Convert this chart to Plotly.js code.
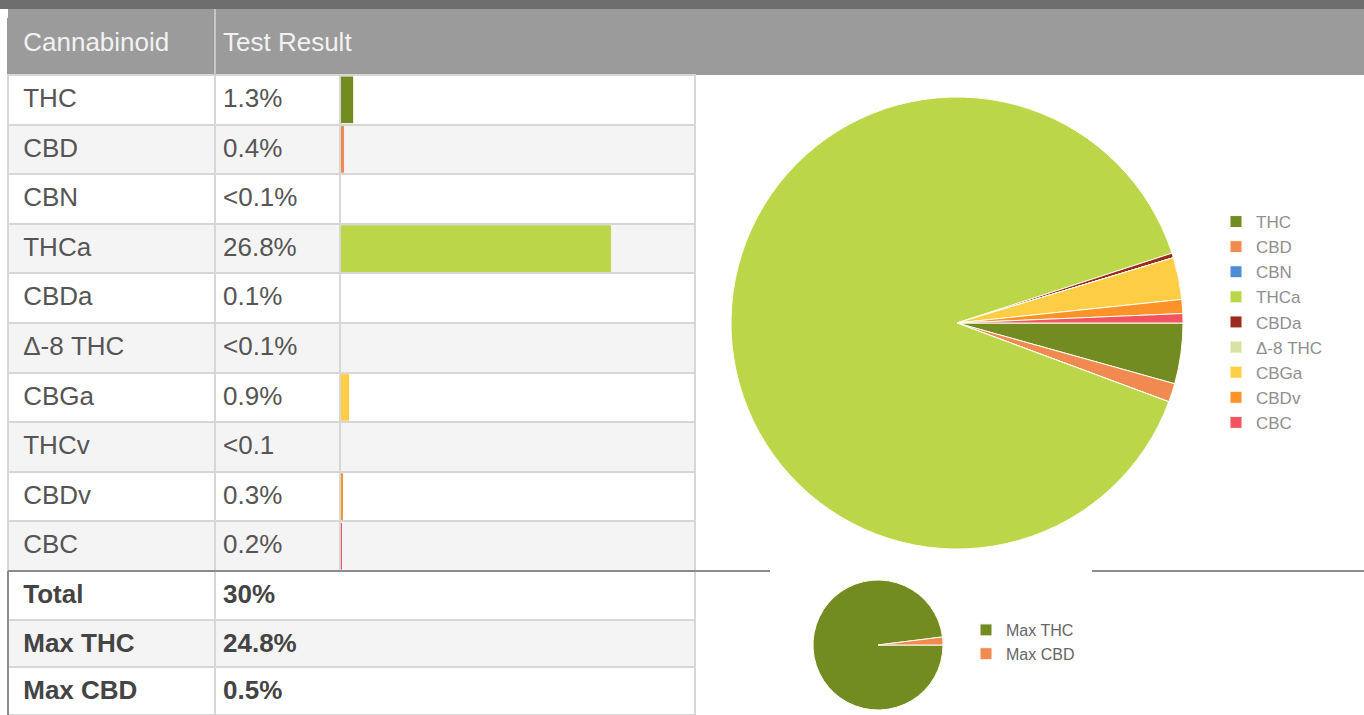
<!DOCTYPE html>
<html>
<head>
<meta charset="utf-8">
<script src="https://cdn.plot.ly/plotly-3.0.1.min.js"></script>
<style>html,body{margin:0;padding:0;background:#fff;}#chart{width:1364px;height:715px;}</style>
</head>
<body>
<div id="chart"></div>
<script>
// ---------- data ----------
const headerLabels = ['Cannabinoid', 'Test Result'];
const cannabinoids = ['THC', 'CBD', 'CBN', 'THCa', 'CBDa', 'Δ-8 THC', 'CBGa', 'THCv', 'CBDv', 'CBC'];
const resultLabels = ['1.3%', '0.4%', '<0.1%', '26.8%', '0.1%', '<0.1%', '0.9%', '<0.1', '0.3%', '0.2%'];
const resultValues = [1.3, 0.4, 0, 26.8, 0.1, 0, 0.9, 0, 0.3, 0.2];
const pieLabels = ['THC', 'CBD', 'CBN', 'THCa', 'CBDa', 'Δ-8 THC', 'CBGa', 'CBDv', 'CBC'];
const pieValues = [1.3, 0.4, 0, 26.8, 0.1, 0, 0.9, 0.3, 0.2];
const summaryLabels = ['Total', 'Max THC', 'Max CBD'];
const summaryResults = ['30%', '24.8%', '0.5%'];
const maxLabels = ['Max THC', 'Max CBD'];
const maxValues = [24.8, 0.5];

// ---------- style ----------
const W = 1364, H = 715;
const px = v => v / W;
const py = v => 1 - v / H;
const colorOf = {
  'THC': '#728c22', 'CBD': '#f08a50', 'CBN': '#4d8ad8', 'THCa': '#bcd64a',
  'CBDa': '#9b2b1f', 'Δ-8 THC': '#d5e4a2', 'CBGa': '#fdce45', 'THCv': '#cccccc',
  'CBDv': '#fb9329', 'CBC': '#f2535f', 'Max THC': '#728c22', 'Max CBD': '#f08a50'
};
const FONT = 'Liberation Sans, Arial, Helvetica, sans-serif';
const fillOf = i => i % 2 === 0 ? '#ffffff' : '#f4f4f4';
const CLEAR = 'rgba(0,0,0,0)';
const gridCol = '#d7d7d7';
// keep each cell on one line and render it through the rich-text path
const cell = s => s === '' ? '' : s.replace(/ /g, '\u00a0') + '<span></span>';
const boldCell = s => '<b>' + s.replace(/ /g, '\u00a0') + '</b>';

const bandTop = 9, tableTop = 19, rowsTop = 75, sepY = 571;
const rowH = (sepY - rowsTop) / cannabinoids.length;
const cellFont = {family: FONT, size: 26, color: '#555555'};

// header row (spans the bar column, so its own 2-column table)
const headTable = {
  type: 'table',
  domain: {x: [px(8), px(695)], y: [py(rowsTop), py(tableTop)]},
  columnwidth: [207, 480],
  header: {
    values: headerLabels.map(cell),
    align: 'left', height: rowsTop - tableTop,
    prefix: ['\u00a0', ''],
    fill: {color: '#9b9b9b'},
    line: {color: '#9b9b9b', width: 2},
    font: {family: FONT, size: 26, color: '#f2f2f2'}
  },
  cells: {values: []}
};

// cannabinoid rows: first row carried by the table header, the rest as cells
const rest = a => a.slice(1);
const mainTable = {
  type: 'table',
  domain: {x: [px(8), px(695)], y: [py(sepY), py(rowsTop)]},
  columnwidth: [207, 125, 355],
  header: {
    values: [cell(cannabinoids[0]), cell(resultLabels[0]), ''],
    align: 'left', height: rowH,
    prefix: ['\u00a0', '', ''],
    fill: {color: [fillOf(0), fillOf(0), CLEAR]},
    line: {color: gridCol, width: 2},
    font: cellFont
  },
  cells: {
    values: [rest(cannabinoids).map(cell), rest(resultLabels).map(cell), rest(cannabinoids).map(() => '')],
    align: 'left', height: rowH,
    prefix: ['\u00a0', '', ''],
    fill: {color: [rest(cannabinoids).map((_, i) => fillOf(i + 1)), rest(cannabinoids).map((_, i) => fillOf(i + 1)), rest(cannabinoids).map(() => CLEAR)]},
    line: {color: gridCol, width: 2},
    font: cellFont
  }
};

const summaryTable = {
  type: 'table',
  domain: {x: [px(8), px(695)], y: [0, py(sepY)]},
  columnwidth: [207, 480],
  header: {
    values: [boldCell(summaryLabels[0]), boldCell(summaryResults[0])],
    align: 'left', height: 49,
    prefix: ['\u00a0', ''],
    fill: {color: '#ffffff'},
    line: {color: gridCol, width: 2},
    font: {family: FONT, size: 26, color: '#444444'}
  },
  cells: {
    values: [rest(summaryLabels).map(boldCell), rest(summaryResults).map(boldCell)],
    align: 'left', height: 47.4,
    prefix: ['\u00a0', ''],
    fill: {color: [['#f4f4f4', '#ffffff'], ['#f4f4f4', '#ffffff']]},
    line: {color: gridCol, width: 2},
    font: {family: FONT, size: 26, color: '#444444'}
  }
};

const bars = {
  type: 'bar', orientation: 'h',
  x: resultValues, y: cannabinoids,
  marker: {color: cannabinoids.map(c => colorOf[c])},
  width: 0.94, hoverinfo: 'skip', showlegend: false,
  xaxis: 'x', yaxis: 'y'
};

const bigPie = {
  type: 'pie', labels: pieLabels, values: pieValues,
  sort: false, direction: 'clockwise', rotation: 90,
  textinfo: 'none', hoverinfo: 'skip',
  marker: {colors: pieLabels.map(c => colorOf[c]), line: {color: '#fffdf2', width: 1}},
  domain: {x: [px(731), px(1183)], y: [py(549), py(97)]},
  legend: 'legend'
};

const smallPie = {
  type: 'pie', labels: maxLabels, values: maxValues,
  sort: false, direction: 'clockwise', rotation: 90,
  textinfo: 'none', hoverinfo: 'skip',
  marker: {colors: maxLabels.map(c => colorOf[c]), line: {color: '#fffdf2', width: 1}},
  domain: {x: [px(813), px(943)], y: [py(710), py(580)]},
  legend: 'legend2'
};

const shapes = [
  {type: 'rect', xref: 'paper', yref: 'paper', x0: 0, x1: 1, y0: py(bandTop), y1: 1, fillcolor: '#6e6e6e', line: {width: 0}, layer: 'below'},
  {type: 'rect', xref: 'paper', yref: 'paper', x0: px(8), x1: 1, y0: py(rowsTop), y1: py(bandTop), fillcolor: '#9b9b9b', line: {width: 0}, layer: 'below'}
];
cannabinoids.forEach((c, i) => {
  if (i % 2 === 1) {
    shapes.push({type: 'rect', xref: 'paper', yref: 'paper', x0: px(340), x1: px(695),
      y0: py(rowsTop + (i + 1) * rowH), y1: py(rowsTop + i * rowH),
      fillcolor: '#f4f4f4', line: {width: 0}, layer: 'below'});
  }
});
shapes.push(
  {type: 'line', xref: 'paper', yref: 'paper', x0: px(215), x1: px(215), y0: py(rowsTop), y1: py(bandTop), line: {color: '#c6c6c6', width: 2}, layer: 'above'},
  {type: 'line', xref: 'paper', yref: 'paper', x0: px(8), x1: px(770), y0: py(sepY), y1: py(sepY), line: {color: '#8c8c8c', width: 2}, layer: 'above'},
  {type: 'line', xref: 'paper', yref: 'paper', x0: px(1092), x1: 1, y0: py(sepY), y1: py(sepY), line: {color: '#8c8c8c', width: 2}, layer: 'above'},
  {type: 'line', xref: 'paper', yref: 'paper', x0: px(8), x1: px(8), y0: 0, y1: py(sepY), line: {color: '#8c8c8c', width: 2}, layer: 'above'}
);

const layout = {
  width: W, height: H,
  margin: {l: 0, r: 0, t: 0, b: 0, pad: 0},
  paper_bgcolor: '#ffffff', plot_bgcolor: 'rgba(0,0,0,0)',
  font: {family: FONT},
  xaxis: {domain: [px(340), px(695)], range: [0, 35.1], visible: false, fixedrange: true},
  yaxis: {domain: [py(sepY), py(rowsTop)], type: 'category', autorange: 'reversed', visible: false, fixedrange: true},
  legend: {x: px(1216), y: py(204), xanchor: 'left', yanchor: 'top', bgcolor: 'rgba(0,0,0,0)',
    font: {family: FONT, size: 17, color: '#8f8f8f'}, traceorder: 'normal'},
  legend2: {x: px(966), y: py(613), xanchor: 'left', yanchor: 'top', bgcolor: 'rgba(0,0,0,0)',
    font: {family: FONT, size: 16, color: '#666666'}},
  shapes: shapes,
  showlegend: true
};

Plotly.newPlot('chart', [bars, bigPie, smallPie, headTable, mainTable, summaryTable], layout, {displayModeBar: false, staticPlot: true});
</script>
</body>
</html>
